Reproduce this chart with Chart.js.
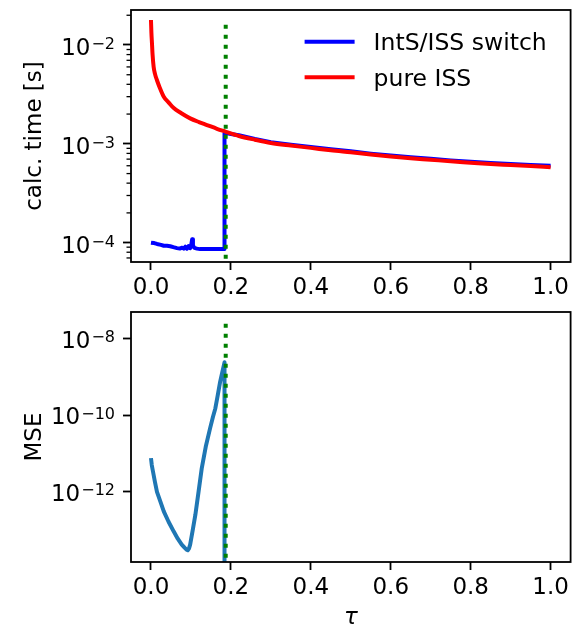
<!DOCTYPE html>
<html>
<head>
<meta charset="utf-8">
<script src="https://cdn.jsdelivr.net/npm/chart.js@4.4.0/dist/chart.umd.min.js"></script>
<style>
body { margin: 0; background: #fff; }
#topBox { position: absolute; left: 0; top: 0; }
#botBox { position: absolute; left: 0; top: 300px; }
</style>
</head>
<body>
<div id="topBox"><canvas id="timeChart" width="573" height="300"></canvas></div>
<div id="botBox"><canvas id="mseChart" width="573" height="335"></canvas></div>
<script>
// x ticks shared by both panels
var tauTicks = [0, 0.2, 0.4, 0.6, 0.8, 1.0];
var switchTau = 0.187;

// top panel: calc. time
var issTau = [0, 0.001, 0.0025, 0.004, 0.0067, 0.010, 0.015, 0.022, 0.032, 0.045, 0.057, 0.075, 0.098, 0.12, 0.14, 0.165, 0.186,
  0.22, 0.26, 0.3, 0.35, 0.4, 0.45, 0.5, 0.55, 0.6, 0.65, 0.7, 0.75, 0.8, 0.85, 0.9, 0.95, 1.0];
var issTime = [1.79e-2, 1.35e-2, 1.04e-2, 8.0e-3, 6.0e-3, 5.1e-3, 4.4e-3, 3.7e-3, 3.0e-3, 2.6e-3, 2.3e-3, 2.05e-3, 1.81e-3, 1.66e-3, 1.55e-3, 1.42e-3, 1.33e-3,
  1.20e-3, 1.10e-3, 1.02e-3, 9.6e-4, 9.1e-4, 8.6e-4, 8.2e-4, 7.8e-4, 7.45e-4, 7.15e-4, 6.9e-4, 6.65e-4, 6.45e-4, 6.25e-4, 6.1e-4, 5.95e-4, 5.8e-4];

var switchTauData = [0, 0.008, 0.015, 0.025, 0.032, 0.04, 0.048, 0.056, 0.065, 0.072, 0.078, 0.082, 0.086, 0.09, 0.094, 0.098, 0.101, 0.103, 0.105,
  0.108, 0.111, 0.115, 0.123, 0.14, 0.16, 0.173, 0.184, 0.184, 0.2, 0.22, 0.26, 0.3, 0.35, 0.4, 0.45, 0.5, 0.55, 0.6, 0.65, 0.7, 0.75, 0.8, 0.85, 0.9, 0.95, 1.0];
var switchTime = [1.0e-4, 9.9e-5, 9.7e-5, 9.5e-5, 9.3e-5, 9.3e-5, 9.2e-5, 9.0e-5, 8.8e-5, 8.7e-5, 8.9e-5, 8.7e-5, 9.1e-5, 8.7e-5, 9.2e-5, 8.8e-5, 9.6e-5, 1.08e-4, 9.4e-5,
  8.9e-5, 8.8e-5, 8.7e-5, 8.6e-5, 8.6e-5, 8.6e-5, 8.6e-5, 8.6e-5, 1.29e-3, 1.26e-3, 1.22e-3, 1.12e-3, 1.04e-3, 9.8e-4, 9.3e-4, 8.8e-4, 8.4e-4, 7.95e-4, 7.6e-4,
  7.3e-4, 7.05e-4, 6.8e-4, 6.6e-4, 6.4e-4, 6.25e-4, 6.1e-4, 6.0e-4];

var timeMajor = [1e-4, 1e-3, 1e-2];
var timeExp = ['\u22124', '\u22123', '\u22122'];
var timeMinor = [7e-5, 8e-5, 9e-5, 2e-4, 3e-4, 4e-4, 5e-4, 6e-4, 7e-4, 8e-4, 9e-4,
  2e-3, 3e-3, 4e-3, 5e-3, 6e-3, 7e-3, 8e-3, 9e-3, 2e-2];

// bottom panel: MSE
var mseTau = [0, 0.002, 0.005, 0.01, 0.015, 0.024, 0.032, 0.044, 0.057, 0.067, 0.077, 0.084, 0.089, 0.092, 0.095, 0.098, 0.104, 0.111, 0.119,
  0.127, 0.137, 0.148, 0.155, 0.161, 0.167, 0.173, 0.179, 0.184, 0.184];
var mseVal = [7.6e-12, 5.0e-12, 3.4e-12, 1.8e-12, 1.0e-12, 5.4e-13, 3.1e-13, 1.66e-13, 9.2e-14, 6.0e-14, 4.2e-14, 3.5e-14, 3.1e-14, 3.0e-14, 3.3e-14, 4.2e-14, 9.5e-14, 2.5e-13, 1.0e-12,
  4.1e-12, 1.5e-11, 4.6e-11, 9.0e-11, 1.5e-10, 3.3e-10, 7.4e-10, 1.4e-9, 2.4e-9, 1e-20];

var mseMajor = [1e-12, 1e-10, 1e-8];
var mseExp = ['\u221212', '\u221210', '\u22128'];

Chart.defaults.font.family = 'DejaVu Sans';
Chart.defaults.font.size = 23;
Chart.defaults.color = '#000';

function pts(xs, ys) {
  var out = [];
  for (var i = 0; i < xs.length; i++) out.push({x: xs[i], y: ys[i]});
  return out;
}

// frame, minor ticks, 10^k labels and in-axes legend
var framePlugin = {
  id: 'frame',
  afterDatasetsDraw: function(chart) {
    var a = chart.chartArea, ctx = chart.ctx;
    var opts = chart.options.plugins.frame;
    var ys = chart.scales.y;
    ctx.save();
    ctx.strokeStyle = '#000';
    ctx.lineWidth = 1.3;
    (opts.minor || []).forEach(function(v) {
      var p = ys.getPixelForValue(v);
      if (p < a.top || p > a.bottom) return;
      ctx.beginPath();
      ctx.moveTo(a.left, p);
      ctx.lineTo(a.left - 4.5, p);
      ctx.stroke();
    });
    ctx.lineWidth = 1.8;
    ctx.strokeRect(a.left, a.top, a.right - a.left, a.bottom - a.top);

    // y tick labels as 10 with raised exponent
    ctx.fillStyle = '#000';
    ctx.textAlign = 'right';
    ctx.textBaseline = 'alphabetic';
    opts.major.forEach(function(v, i) {
      var p = ys.getPixelForValue(v);
      var xr = a.left - 16;
      ctx.font = '16px "DejaVu Sans"';
      var ew = ctx.measureText(opts.exps[i]).width;
      ctx.fillText(opts.exps[i], xr, p + opts.base - 5.5);
      ctx.font = '23px "DejaVu Sans"';
      ctx.fillText('10', xr - ew - 1, p + opts.base);
    });

    if (opts.legend) {
      var row = 0;
      ctx.textAlign = 'left';
      chart.data.datasets.forEach(function(ds) {
        if (!ds.label) return;
        var y = a.top + 31.7 + row * 35.6;
        ctx.strokeStyle = ds.borderColor;
        ctx.lineWidth = 4;
        ctx.beginPath();
        ctx.moveTo(a.right - 266, y);
        ctx.lineTo(a.right - 216, y);
        ctx.stroke();
        ctx.font = '23.5px "DejaVu Sans"';
        ctx.fillText(ds.label, a.right - 197, y + 8.6);
        row++;
      });
    }
    ctx.restore();
  }
};

function xAxis(h, withTitle) {
  return {
    type: 'linear', min: -0.05, max: 1.05,
    afterBuildTicks: function(s) { s.ticks = tauTicks.map(function(v) { return {value: v}; }); },
    afterFit: function(s) { s.height = h; },
    ticks: { autoSkip: false, maxRotation: 0, padding: 4, callback: function(v) { return v.toFixed(1); } },
    grid: { drawOnChartArea: false, drawTicks: true, tickLength: 8, tickWidth: 1.8, tickColor: '#000' },
    border: { display: false },
    title: { display: withTitle, text: '\u03C4', font: { style: 'italic', size: 23 }, padding: { top: 0, bottom: 3 } }
  };
}

function yAxis(min, max, major, title) {
  return {
    type: 'logarithmic', min: min, max: max,
    afterBuildTicks: function(s) { s.ticks = major.map(function(v) { return {value: v}; }); },
    afterFit: function(s) { s.width = 131; },
    ticks: { display: false },
    grid: { drawOnChartArea: false, drawTicks: true, tickLength: 8, tickWidth: 1.8, tickColor: '#000' },
    border: { display: false },
    title: { display: true, text: title, font: { size: 23 }, padding: { top: 21, bottom: 0 } }
  };
}

var dotted = [4, 6];

var timeChart = new Chart(document.getElementById('timeChart'), {
  type: 'line',
  data: {
    datasets: [
      { label: 'IntS/ISS switch', data: pts(switchTauData, switchTime), borderColor: '#0000ff', borderWidth: 4, order: 2 },
      { label: 'pure ISS', data: pts(issTau, issTime), borderColor: '#ff0000', borderWidth: 4, cubicInterpolationMode: 'monotone', order: 1 },
      { data: pts([switchTau, switchTau], [1.6e-2, 1e-6]), borderColor: '#008000', borderWidth: 4, borderDash: dotted, order: 0 }
    ]
  },
  options: {
    responsive: false,
    animation: false,
    layout: { padding: { top: 10, right: 2, left: 0, bottom: 0 } },
    elements: { point: { radius: 0 }, line: { tension: 0, borderJoinStyle: 'round', fill: false } },
    plugins: {
      legend: { display: false }, tooltip: { enabled: false },
      frame: { minor: timeMinor, major: timeMajor, exps: timeExp, base: 10, legend: true }
    },
    scales: {
      x: xAxis(38, false),
      y: yAxis(6.37e-5, 2.26e-2, timeMajor, 'calc. time [s]')
    }
  },
  plugins: [framePlugin]
});

var mseChart = new Chart(document.getElementById('mseChart'), {
  type: 'line',
  data: {
    datasets: [
      { data: pts(mseTau, mseVal), borderColor: '#1f77b4', borderWidth: 4, order: 1 },
      { data: pts([switchTau, switchTau], [2.45e-8, 1e-20]), borderColor: '#008000', borderWidth: 4, borderDash: dotted, order: 0 }
    ]
  },
  options: {
    responsive: false,
    animation: false,
    layout: { padding: { top: 12, right: 2, left: 0, bottom: 0 } },
    elements: { point: { radius: 0 }, line: { tension: 0, borderJoinStyle: 'round', fill: false } },
    plugins: {
      legend: { display: false }, tooltip: { enabled: false },
      frame: { minor: [], major: mseMajor, exps: mseExp, base: 9, legend: false }
    },
    scales: {
      x: xAxis(73, true),
      y: yAxis(1.48e-14, 4.93e-8, mseMajor, 'MSE')
    }
  },
  plugins: [framePlugin]
});
</script>
</body>
</html>
